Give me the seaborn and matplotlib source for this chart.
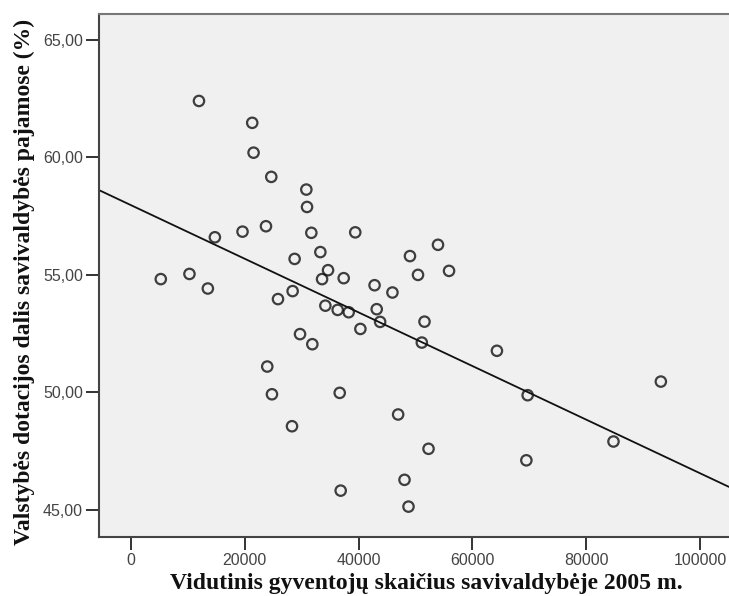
import matplotlib
matplotlib.use("Agg")
import matplotlib.pyplot as plt
import seaborn as sns
import pandas as pd

# Average municipality population in 2005
population = [5277, 10310, 11980, 13540, 14775, 19630, 21335, 21570, 23750, 23975,
              24680, 24800, 25860, 28320, 28430, 28780, 29730, 30840, 30960, 31715,
              31890, 33300, 33600, 34180, 34650, 36340, 36700, 36870, 37400, 38280,
              39430, 40330, 42820, 43200, 43800, 45960, 46960, 48080, 48780, 49040,
              50450, 51120, 51590, 52300, 53960, 55900, 64310, 69480, 69710, 84780,
              93100]
# Share of state grants in municipal income (%)
grant_share = [54.82, 55.04, 62.40, 54.42, 56.60, 56.84, 61.47, 60.20, 57.07, 51.10,
               59.17, 49.92, 53.97, 48.56, 54.31, 55.68, 52.48, 58.63, 57.89, 56.79,
               52.05, 55.97, 54.82, 53.69, 55.20, 53.51, 49.98, 45.82, 54.86, 53.41,
               56.81, 52.70, 54.56, 53.54, 53.00, 54.25, 49.06, 46.28, 45.14, 55.80,
               55.00, 52.12, 53.01, 47.60, 56.28, 55.17, 51.77, 47.11, 49.88, 47.91,
               50.46]

x_ticks = [0, 20000, 40000, 60000, 80000, 100000]
y_ticks = [45, 50, 55, 60, 65]
y_tick_labels = ["45,00", "50,00", "55,00", "60,00", "65,00"]

xlabel = "Vidutinis gyventojų skaičius savivaldybėje 2005 m."
ylabel = "Valstybės dotacijos dalis savivaldybės pajamose (%)"

df = pd.DataFrame({"pop": population, "share": grant_share})

sns.set_theme(style="white")
plt.rcParams["font.family"] = ["Liberation Sans", "DejaVu Sans"]

fig = plt.figure(figsize=(7.29, 5.96), dpi=100)
ax = fig.add_axes([0.1358, 0.0995, 0.8642, 0.877])
ax.set_facecolor("#f0f0f0")
ax.set_xlim(-5576, 105070)
ax.set_ylim(43.86, 66.1)

sns.regplot(data=df, x="pop", y="share", ax=ax, ci=None, truncate=False,
            scatter_kws=dict(s=56, facecolors="none", edgecolors="#111111",
                             linewidths=1.6, zorder=3),
            line_kws=dict(color="#111111", lw=1.3, zorder=2))

ax.set_xticks(x_ticks)
ax.set_xticklabels([str(v) for v in x_ticks])
ax.set_yticks(y_ticks)
ax.set_yticklabels(y_tick_labels)
ax.tick_params(axis="both", which="major", direction="out", length=9.5, width=1.4,
               color="#333333", labelsize=11.5, labelcolor="#444444", pad=2,
               left=True, bottom=True)

ax.set_xlabel(xlabel, fontfamily=["Liberation Serif", "DejaVu Serif"], fontweight="bold",
              fontsize=17, color="#111111", labelpad=0)
ax.xaxis.set_label_coords(0.519, -0.070)
ax.set_ylabel(ylabel, fontfamily=["Liberation Serif", "DejaVu Serif"], fontweight="bold",
              fontsize=17, color="#111111", labelpad=2)
ax.yaxis.set_label_coords(-0.102, 0.487)

for side in ["left", "bottom"]:
    ax.spines[side].set_color("#444444")
    ax.spines[side].set_linewidth(1.5)
ax.spines["top"].set_color("#777777")
ax.spines["top"].set_linewidth(1.5)
ax.spines["right"].set_visible(False)

fig.savefig("out.png", dpi=100)
